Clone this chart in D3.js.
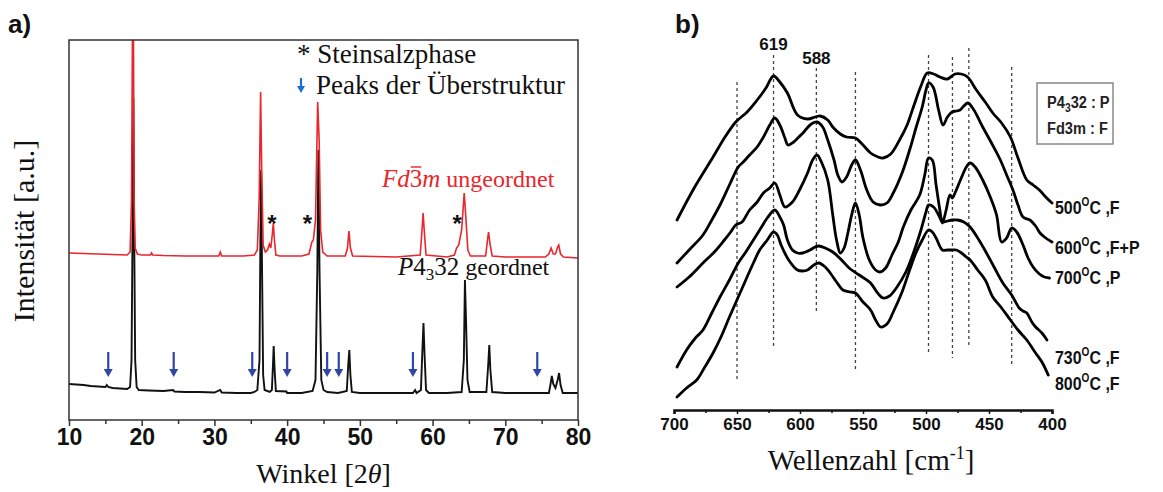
<!DOCTYPE html>
<html><head><meta charset="utf-8">
<script src="https://cdn.jsdelivr.net/npm/d3@7"></script>
<style>body{margin:0;background:#fff} svg{display:block}</style>
</head><body><svg id="c" width="1163" height="492"></svg>
<script>
// ---------- Panel a: XRD ----------
const xTicksA = [10,20,30,40,50,60,70,80];
const xMinorA = [15,25,35,45,55,65,75];
const xrdBlack = [[10,36],[11,35.5],[12,35],[13,34],[14,33.5],[15,33],[15.2,35],[15.4,33],[16,32],[17,31.5],[18,31],
 [18.4,33],[18.6,60],[18.75,200],[18.85,322],[18.95,200],[19.1,60],[19.3,33],[19.6,30],
 [21,29.5],[23,29],[24.3,30],[24.5,28.5],[26,28],[28,28],[30,27.5],[30.8,30],[31,27.5],[33,27],[35,27],[35.5,28],[35.9,30],
 [36.2,60],[36.3,160],[36.42,250],[36.55,150],[36.7,45],[36.9,30],[37.6,28],[37.9,30],[38.05,55],[38.15,74],[38.28,50],[38.45,29],
 [39.9,28.5],[40,27],[42,27],[43.5,29],[43.9,40],[44.15,150],[44.3,270],[44.45,150],[44.7,40],[45,30],[45.5,28],[47,27],
 [48.2,29],[48.4,55],[48.55,70],[48.7,45],[48.9,28],[50,27],[55,27],[57.3,27],[57.6,30],[57.8,27],[58.4,30],[58.6,70],[58.75,97],
 [58.9,65],[59.1,30],[59.5,27],[62,27],[64,28],[64.3,60],[64.45,140],[64.6,100],[64.8,40],[65.1,28],[67.4,28],[67.65,55],[67.8,75],
 [67.95,50],[68.2,28],[70,27],[74,27],[76,27],[76.2,35],[76.4,44],[76.6,36],[76.9,32],[77.2,40],[77.4,47],[77.6,35],[77.9,27],[80,27]];
const xrdRed = [[10,167],[12,166.5],[14,166],[16,165.5],[18,165],[18.4,168],[18.6,220],[18.75,420],[18.85,420],[18.95,220],[19.1,172],
 [19.4,166],[20,165],[21.2,165],[21.35,167],[21.5,165],[23,164.5],[26,164],[30.6,164],[30.8,168],[31,164],[34,164],[35.5,165],[35.9,170],
 [36.15,220],[36.35,328],[36.5,250],[36.7,175],[37,168],[37.3,170],[37.55,176],[37.75,172],[37.95,185],[38.1,197],[38.25,180],[38.45,165],
 [39,164],[42,164],[43,166],[43.4,178],[43.6,180],[43.9,200],[44.2,318],[44.4,280],[44.6,190],[44.9,168],[45.5,164],[48,164],[48.3,172],
 [48.5,189],[48.7,172],[49,164],[55,163],[58.3,165],[58.55,190],[58.7,207],[58.85,190],[59.1,165],[62,163],[63,165],[63.3,172],[63.6,175],
 [64,190],[64.35,227],[64.6,200],[64.85,170],[65.2,164],[67.3,164],[67.55,180],[67.7,188],[67.9,176],[68.2,164],[70,163],[75.5,163],
 [76,166],[76.3,172],[76.6,166],[76.9,166],[77.2,173],[77.35,175],[77.6,166],[78,163],[80,162]];
const arrowAngles = [15.4,24.4,35.2,40.0,45.5,47.1,57.3,74.4];
const arrowTop = 68, arrowTip = 43;
const starAngles = [37.9,42.8,63.4];
const starLevel = 202;

// ---------- Panel b: FTIR ----------
const xTicksB = [700,650,600,550,500,450,400];
const xMinorB = [675,625,575,525,475,425];
const dashPos = [650,621,587,556,498,479,466,432];
const dashTop = [328,355,342,338,355,353,362,343];
const dashBot = [28,63,97,38,55,52,62,43];
const peakLabels = ["619","588"];
const peakLabelPos = [621,587];
const peakLabelLevel = [360,346];
const ftir500 = [[697.6,190],[684,222],[669,253],[660,272],[651,288],[642,298],[634,310],[627,322],[621,334],[616,328],[610,317],[602,295],[594,291],[588,293],[584,294],[578,290],[574,283],[568,276],[563,273],[556,272],[550,265],[544,257],[538,253],[534,252],[528,256],[521,270],[515,285],[510,303],[504,324],[499,337],[494,336],[489,333],[483,331],[477,336],[472,336],[467,333],[460,320],[453,308],[447,297],[440,287],[433,273],[427,252],[420,230],[415,225],[410,220],[405,213],[400,207]];
const ftir600 = [[697.6,147],[688,160],[677,175],[670,190],[663.5,205],[656,225],[649,243],[645,248],[640,255],[634,263],[629,273],[624,285],[620,292],[616,285],[612,272],[609.5,265],[605,268],[601,273],[597.6,277],[592,285],[586.5,288],[582,283],[578,270],[573,250],[570,235],[566.7,228],[563,233],[559,245],[556,250],[552,240],[547,220],[542,208],[536.5,205],[531,207],[526,217],[519,237],[513,260],[508,282],[503,303],[500,320],[498,327],[494.4,323],[490,300],[486.5,285],[483,293],[479.4,298],[476,299],[473,300],[470,304],[466.7,307],[462,300],[455,283],[448,267],[441,250],[436,235],[431,220],[427,205],[423,193],[417.5,190],[413,184],[409.5,177],[405,172],[400,168]];
const ftir700 = [[697.6,123],[688,133],[677,147],[668,158],[660,170],[655,178],[651,185],[646,188],[640,200],[634,208],[629,217],[624,222],[620,227],[616,215],[612,203],[606,208],[600.4,220],[594,237],[590,250],[586.5,255],[583,248],[578,230],[574,195],[571,170],[568,157],[565,162],[562,177],[559,195],[556,207],[553,195],[550,172],[545,150],[540,140],[536.5,138],[532,142],[527,155],[522,168],[518,183],[512,200],[505,215],[501,235],[498,252],[495,250],[492,225],[489,200],[487,187],[484,200],[481,215],[479,212],[477,217],[472,232],[468,243],[465,247],[461,243],[455,230],[449,213],[444,195],[440,168],[436,172],[432,182],[428,178],[423,165],[419,152],[415,143],[410,136],[406,133],[402,132]];
const ftir730 = [[697.6,43],[690,60],[683,72],[677,80],[670,97],[663.5,113],[656,130],[649,147],[643,158],[637,170],[631,182],[626,192],[620,200],[616,193],[613,185],[610,170],[606,160],[602,157],[598,157],[592,160],[588,163],[585,164],[580,162],[574,158],[567,150],[561,142],[553,135],[544,127],[539,118],[534,112],[529,114],[523,123],[516,138],[510,157],[504,180],[500,198],[498,205],[494,203],[490,195],[487,188],[483,189],[479,190],[475,190],[470,188],[465,183],[458,170],[452,157],[446,143],[439,127],[432,115],[426,102],[423,99],[420,97],[416,88],[413,83],[408,77],[404,70]];
const ftir800 = [[697.6,13],[690,22],[682,30],[676,42],[669,57],[662,75],[656,93],[649,113],[642,133],[637,147],[632,160],[626,170],[621,178],[618,175],[615,165],[609,150],[602,140],[598,139],[594,140],[589,145],[585,147],[580,143],[576,137],[571,128],[566,120],[560,118],[556,117],[550,108],[544,100],[540,90],[536,83],[531,86],[526,98],[519,118],[513,140],[508,157],[503,170],[498,180],[495,178],[492,172],[487,160],[483,160],[480,160],[476,160],[473,158],[468,153],[465,150],[459,140],[453,130],[447,113],[440,102],[433,90],[427,80],[420,70],[413,57],[408,48],[403,35]];
const seriesB = [ftir500, ftir600, ftir700, ftir730, ftir800];
const tempLabels = ["500","600","700","730","800"];
const phaseLabels = [" ,F"," ,F+P"," ,P"," ,F"," ,F"];
const tempLabelLevel = [203,163,133,53,27];

const svg = d3.select("#c");
const serif = "Liberation Serif, Times New Roman, serif";
const sans = "Liberation Sans, Arial, sans-serif";

// ===== Panel a =====
const A = {l:69, r:578, t:40, b:420};
const xA = d3.scaleLinear().domain([10,80]).range([A.l, A.r]);
const yA = d3.scaleLinear().domain([0,380]).range([A.b, A.t]);
svg.append("defs").append("clipPath").attr("id","clipA")
  .append("rect").attr("x",A.l).attr("y",A.t).attr("width",A.r-A.l).attr("height",A.b-A.t);

const lineA = d3.line().x(d=>xA(d[0])).y(d=>yA(d[1]));
const gA = svg.append("g").attr("clip-path","url(#clipA)");
gA.append("path").attr("d",lineA(xrdBlack)).attr("fill","none").attr("stroke","#111").attr("stroke-width",1.9);
gA.append("path").attr("d",lineA(xrdRed)).attr("fill","none").attr("stroke","#e8262b").attr("stroke-width",1.6);

svg.append("rect").attr("x",A.l).attr("y",A.t).attr("width",A.r-A.l).attr("height",A.b-A.t)
  .attr("fill","none").attr("stroke","#333").attr("stroke-width",1.5);

const axA = svg.append("g").attr("transform",`translate(0,${A.b})`)
  .call(d3.axisBottom(xA).tickValues(xTicksA).tickSize(6).tickPadding(3).tickFormat(d3.format("d")));
axA.select(".domain").remove();
axA.selectAll("line").attr("stroke","#333").attr("stroke-width",1.5);
axA.selectAll("text").attr("font-family",sans).attr("font-weight","bold").attr("font-size",23).attr("fill","#111");
const axAm = svg.append("g").attr("transform",`translate(0,${A.b})`)
  .call(d3.axisBottom(xA).tickValues(xMinorA).tickSize(4).tickFormat(""));
axAm.select(".domain").remove();
axAm.selectAll("line").attr("stroke","#333").attr("stroke-width",1.5);

// arrows
const arrowG = svg.append("g");
arrowAngles.forEach(a=>{
  const x = xA(a), y1 = yA(arrowTop), y2 = yA(arrowTip);
  arrowG.append("line").attr("x1",x).attr("x2",x).attr("y1",y1).attr("y2",y2-6).attr("stroke","#2f45a8").attr("stroke-width",2.2);
  arrowG.append("path").attr("d",`M${x-4.5},${y2-8} L${x+4.5},${y2-8} L${x},${y2} Z`).attr("fill","#2f45a8");
});
// stars
starAngles.forEach(a=>{
  svg.append("text").attr("x",xA(a)).attr("y",yA(starLevel)+14).attr("text-anchor","middle")
    .attr("font-family",sans).attr("font-weight","bold").attr("font-size",24).attr("fill","#111").text("*");
});
// legend
svg.append("text").attr("x",297).attr("y",63).attr("font-family",serif).attr("font-size",27).attr("fill","#111").text("* Steinsalzphase");
svg.append("line").attr("x1",301).attr("x2",301).attr("y1",78).attr("y2",87).attr("stroke","#1a6fd1").attr("stroke-width",2.2);
svg.append("path").attr("d","M297,86 L305,86 L301,93 Z").attr("fill","#1a6fd1");
svg.append("text").attr("x",316).attr("y",94).attr("font-family",serif).attr("font-size",27).attr("fill","#111").text("Peaks der Überstruktur");

// Fd3m label
const fd = svg.append("text").attr("x",382).attr("y",187).attr("font-family",serif).attr("font-size",25).attr("fill","#e8262b");
fd.append("tspan").attr("font-style","italic").text("Fd");
fd.append("tspan").text("3");
fd.append("tspan").attr("font-style","italic").text("m");
fd.append("tspan").attr("font-size",24).text(" ungeordnet");
const e3 = fd.node().getExtentOfChar(2);
svg.append("line").attr("x1",e3.x+1).attr("x2",e3.x+e3.width-1).attr("y1",187-20).attr("y2",187-20).attr("stroke","#e8262b").attr("stroke-width",1.4);

const p4 = svg.append("text").attr("x",398).attr("y",275).attr("font-family",serif).attr("font-size",25).attr("fill","#111");
p4.append("tspan").attr("font-style","italic").text("P");
p4.append("tspan").text("4");
p4.append("tspan").attr("font-size",17).attr("dy",5).text("3");
p4.append("tspan").attr("dy",-5).text("32");
p4.append("tspan").attr("font-size",24).text(" geordnet");

// axis titles a
svg.append("text").attr("transform","translate(34,231) rotate(-90)").attr("text-anchor","middle")
  .attr("font-family",serif).attr("font-size",30).attr("fill","#111").text("Intensität [a.u.]");
const wk = svg.append("text").attr("x",(A.l+A.r)/2).attr("y",483).attr("text-anchor","middle")
  .attr("font-family",serif).attr("font-size",28).attr("fill","#111");
wk.append("tspan").text("Winkel [2");
wk.append("tspan").attr("font-style","italic").text("θ");
wk.append("tspan").text("]");
svg.append("text").attr("x",8).attr("y",33).attr("font-family",sans).attr("font-weight","bold").attr("font-size",26).attr("fill","#111").text("a)");

// ===== Panel b =====
const B = {l:674, r:1052, t:40, b:410};
const xB = d3.scaleLinear().domain([700,400]).range([B.l, B.r]);
const yB = d3.scaleLinear().domain([0,370]).range([B.b, B.t]);

const dashG = svg.append("g");
dashPos.forEach((w,i)=>{
  dashG.append("line").attr("x1",xB(w)).attr("x2",xB(w)).attr("y1",yB(dashTop[i])).attr("y2",yB(dashBot[i]))
    .attr("stroke","#444").attr("stroke-width",1.3).attr("stroke-dasharray","3,3");
});
peakLabels.forEach((t,i)=>{
  svg.append("text").attr("x",xB(peakLabelPos[i])).attr("y",yB(peakLabelLevel[i])).attr("text-anchor","middle")
    .attr("font-family",sans).attr("font-weight","bold").attr("font-size",17).attr("fill","#111").text(t);
});

const lineB = d3.line().x(d=>xB(d[0])).y(d=>yB(d[1])).curve(d3.curveCatmullRom.alpha(0.5));
seriesB.forEach(s=>{
  svg.append("path").attr("d",lineB(s)).attr("fill","none").attr("stroke","#000").attr("stroke-width",2.8)
    .attr("stroke-linejoin","round").attr("stroke-linecap","round");
});

tempLabels.forEach((t,i)=>{
  const tx = svg.append("text").attr("transform",`translate(1055,${yB(tempLabelLevel[i])+7}) scale(0.84,1)`)
    .attr("font-family",sans).attr("font-weight","bold").attr("font-size",19).attr("fill","#111");
  tx.append("tspan").text(t);
  tx.append("tspan").attr("font-size",12).attr("dy",-8).text("O");
  tx.append("tspan").attr("dy",8).text("C");
  tx.append("tspan").text(phaseLabels[i]);
});

// legend box
svg.append("rect").attr("x",1037).attr("y",83).attr("width",76).attr("height",61).attr("fill","none").attr("stroke","#888").attr("stroke-width",1.5);
const l1 = svg.append("text").attr("transform","translate(1047,108) scale(0.86,1)").attr("font-family",sans).attr("font-weight","bold").attr("font-size",17).attr("fill","#222");
l1.append("tspan").text("P4");
l1.append("tspan").attr("font-size",12).attr("dy",4).text("3");
l1.append("tspan").attr("dy",-4).text("32 : P");
svg.append("text").attr("transform","translate(1047,134) scale(0.86,1)").attr("font-family",sans).attr("font-weight","bold").attr("font-size",17).attr("fill","#222").text("Fd3m : F");

const axB = svg.append("g").attr("transform",`translate(0,${B.b})`)
  .call(d3.axisBottom(xB).tickValues(xTicksB).tickSize(4).tickPadding(4).tickFormat(d3.format("d")));
axB.select(".domain").attr("stroke","#111").attr("stroke-width",2.5);
axB.selectAll("line").attr("stroke","#111").attr("stroke-width",1.5);
axB.selectAll("text").attr("font-family",sans).attr("font-weight","bold").attr("font-size",17).attr("fill","#111");
const axBm = svg.append("g").attr("transform",`translate(0,${B.b})`)
  .call(d3.axisBottom(xB).tickValues(xMinorB).tickSize(3).tickFormat(""));
axBm.select(".domain").remove();
axBm.selectAll("line").attr("stroke","#111").attr("stroke-width",1.5);

const wz = svg.append("text").attr("x",871).attr("y",470).attr("text-anchor","middle")
  .attr("font-family",serif).attr("font-size",29).attr("fill","#111");
wz.append("tspan").text("Wellenzahl [cm");
wz.append("tspan").attr("font-size",18).attr("dy",-11).text("-1");
wz.append("tspan").attr("dy",11).text("]");
svg.append("text").attr("x",675).attr("y",33).attr("font-family",sans).attr("font-weight","bold").attr("font-size",26).attr("fill","#111").text("b)");
</script></body></html>
